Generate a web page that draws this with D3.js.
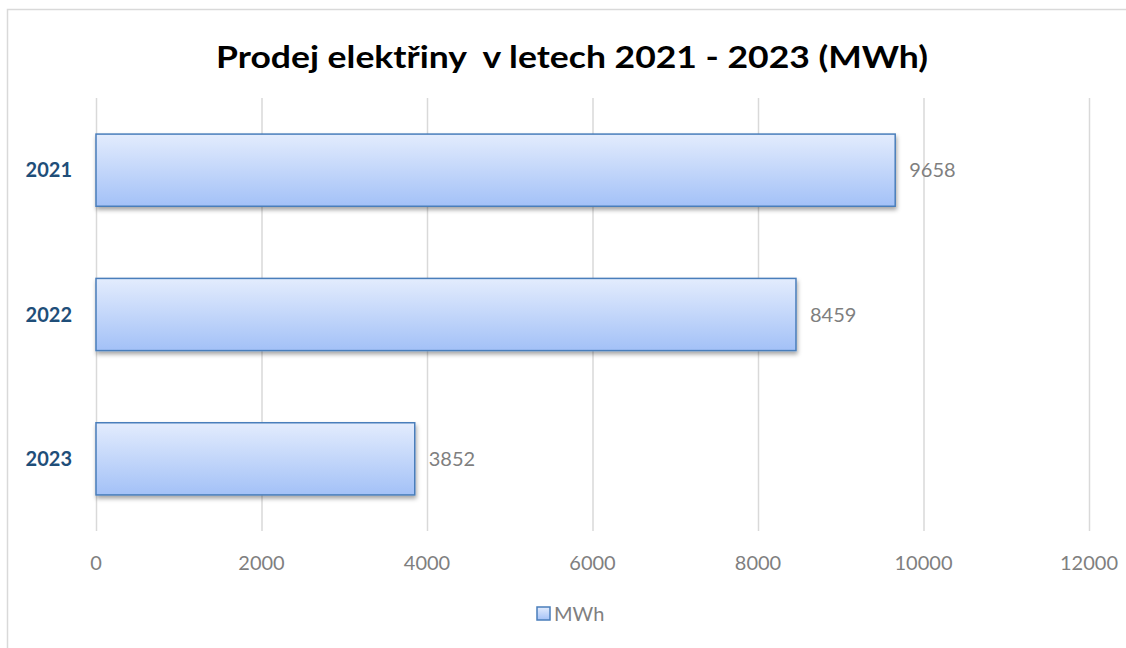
<!DOCTYPE html>
<html>
<head>
<meta charset="utf-8">
<script src="https://cdn.jsdelivr.net/npm/d3@7"></script>
<style>
  body { margin: 0; background: #fff; }
  svg { display: block; font-family: Lato, "Open Sans", sans-serif; }
</style>
</head>
<body>
<script>
// data
const years = ["2021", "2022", "2023"];
const sales = [9658, 8459, 3852];
const xTicks = [0, 2000, 4000, 6000, 8000, 10000, 12000];
const seriesName = "MWh";
const title = "Prodej elektřiny  v letech 2021 - 2023 (MWh)";

const width = 1126, height = 648;

const svg = d3.select("body").append("svg")
  .attr("width", width)
  .attr("height", height);

const defs = svg.append("defs");

const grad = defs.append("linearGradient")
  .attr("id", "barFill")
  .attr("x1", 0).attr("y1", 0).attr("x2", 0).attr("y2", 1);
grad.append("stop").attr("offset", "0%").attr("stop-color", "#e3ecfd");
grad.append("stop").attr("offset", "100%").attr("stop-color", "#a3c1f7");

const shadow = defs.append("filter")
  .attr("id", "shadow")
  .attr("x", "-5%").attr("y", "-20%")
  .attr("width", "110%").attr("height", "150%");
shadow.append("feDropShadow")
  .attr("dx", 1).attr("dy", 3)
  .attr("stdDeviation", 2)
  .attr("flood-color", "#000")
  .attr("flood-opacity", 0.35);

// chart frame (only top and left edges fall inside the window)
svg.append("rect")
  .attr("x", 7.5).attr("y", 9.5)
  .attr("width", 1130).attr("height", 650)
  .attr("fill", "none")
  .attr("stroke", "#d9d9d9")
  .attr("stroke-width", 1.5);

svg.append("text")
  .attr("x", 572).attr("y", 68)
  .attr("text-anchor", "middle")
  .attr("font-size", 31)
  .attr("font-weight", "bold")
  .attr("fill", "#000")
  .attr("textLength", 712)
  .attr("lengthAdjust", "spacingAndGlyphs")
  .style("white-space", "pre")
  .text(title);

const x = d3.scaleLinear().domain([0, 12000]).range([96, 1089]);
const y = d3.scaleBand().domain(years).range([98, 531]).paddingInner(0.5).paddingOuter(0.25);

// gridlines
svg.append("g")
  .selectAll("line")
  .data(xTicks)
  .join("line")
  .attr("x1", d => x(d) + 0.5).attr("x2", d => x(d) + 0.5)
  .attr("y1", 98).attr("y2", 531)
  .attr("stroke", "#d9d9d9")
  .attr("stroke-width", 1.5);

// x axis labels
svg.append("g")
  .selectAll("text")
  .data(xTicks)
  .join("text")
  .attr("x", d => x(d))
  .attr("y", 570)
  .attr("text-anchor", "middle")
  .attr("font-size", 20)
  .attr("fill", "#7f7f7f")
  .text(d => d);

// category labels
svg.append("g")
  .selectAll("text")
  .data(years)
  .join("text")
  .attr("x", 72)
  .attr("y", d => y(d) + y.bandwidth() / 2 + 7)
  .attr("text-anchor", "end")
  .attr("font-size", 20)
  .attr("font-weight", "bold")
  .attr("fill", "#1f4e79")
  .text(d => d);

// bars
svg.append("g")
  .selectAll("rect")
  .data(sales)
  .join("rect")
  .attr("x", x(0))
  .attr("y", (d, i) => y(years[i]))
  .attr("width", d => x(d) - x(0))
  .attr("height", y.bandwidth())
  .attr("fill", "url(#barFill)")
  .attr("stroke", "#4a7ebb")
  .attr("stroke-width", 1.5)
  .attr("filter", "url(#shadow)");

// value labels
svg.append("g")
  .selectAll("text")
  .data(sales)
  .join("text")
  .attr("x", d => x(d) + 14)
  .attr("y", (d, i) => y(years[i]) + y.bandwidth() / 2 + 7)
  .attr("font-size", 20)
  .attr("fill", "#7f7f7f")
  .text(d => d);

// legend
const legend = svg.append("g").attr("transform", "translate(537,607)");
legend.append("rect")
  .attr("width", 13).attr("height", 13)
  .attr("fill", "url(#barFill)")
  .attr("stroke", "#4a7ebb")
  .attr("stroke-width", 1.5);
legend.append("text")
  .attr("x", 17).attr("y", 14)
  .attr("font-size", 20)
  .attr("fill", "#7f7f7f")
  .text(seriesName);
</script>
</body>
</html>
